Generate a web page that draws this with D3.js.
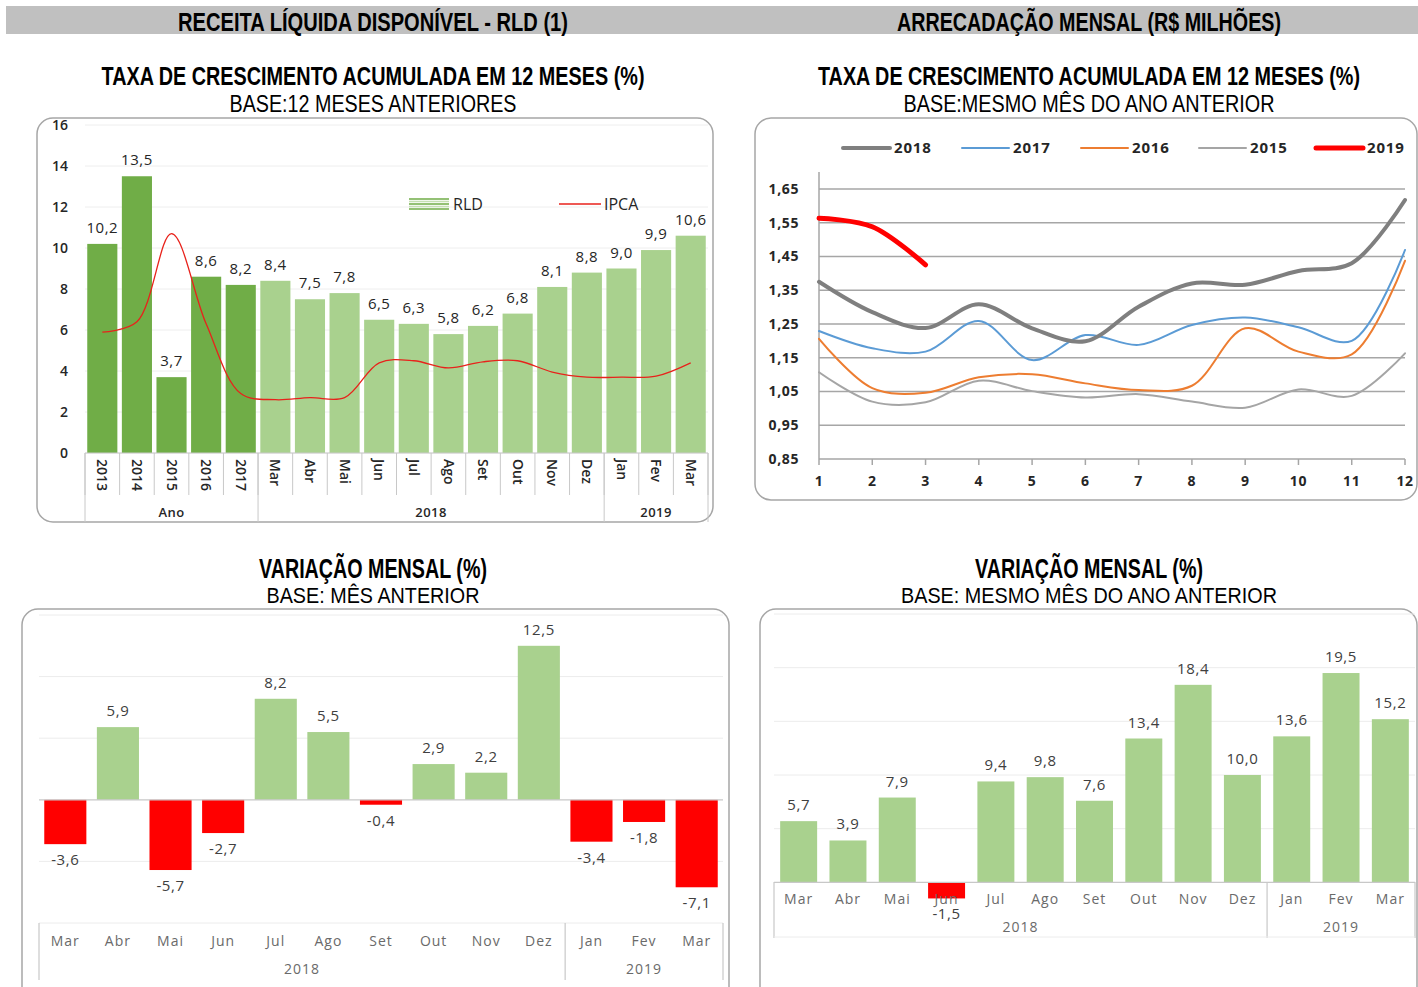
<!DOCTYPE html>
<html>
<head>
<meta charset="utf-8">
<script src="https://cdn.jsdelivr.net/npm/d3@7"></script>
<style>
  body { margin: 0; background: #fff; }
  svg { display: block; }
</style>
</head>
<body>
<div id="chart"></div>
<script>
// ── Data ────────────────────────────────────────────────────────────────────
// RLD: taxa de crescimento acumulada em 12 meses
const rldLabels = ["2013", "2014", "2015", "2016", "2017", "Mar", "Abr", "Mai", "Jun", "Jul", "Ago", "Set", "Out", "Nov", "Dez", "Jan", "Fev", "Mar"];
const rldValues = [10.2, 13.5, 3.7, 8.6, 8.2, 8.4, 7.5, 7.8, 6.5, 6.3, 5.8, 6.2, 6.8, 8.1, 8.8, 9.0, 9.9, 10.6];
const ipcaValues = [5.9, 6.4, 10.7, 6.3, 2.9, 2.6, 2.7, 2.7, 4.4, 4.5, 4.15, 4.45, 4.5, 3.95, 3.7, 3.7, 3.75, 4.4];
const rldGroupNames = ["Ano", "2018", "2019"];
const rldGroupSizes = [5, 10, 3];
const rldTicks = [0, 2, 4, 6, 8, 10, 12, 14, 16];

// Arrecadação mensal (R$ milhões), meses 1..12
const monthNums = [1, 2, 3, 4, 5, 6, 7, 8, 9, 10, 11, 12];
const arr2018 = [1.375, 1.285, 1.238, 1.308, 1.237, 1.199, 1.301, 1.370, 1.366, 1.407, 1.430, 1.617];
const arr2017 = [1.229, 1.178, 1.168, 1.259, 1.143, 1.217, 1.188, 1.247, 1.269, 1.240, 1.200, 1.469];
const arr2016 = [1.206, 1.060, 1.046, 1.092, 1.101, 1.074, 1.054, 1.067, 1.237, 1.168, 1.160, 1.437];
const arr2015 = [1.107, 1.020, 1.018, 1.082, 1.051, 1.032, 1.042, 1.020, 1.002, 1.056, 1.037, 1.163];
const arr2019 = [1.563, 1.538, 1.425];
const arrTicks = [0.85, 0.95, 1.05, 1.15, 1.25, 1.35, 1.45, 1.55, 1.65];

// Variação mensal
const monthLabels = ["Mar", "Abr", "Mai", "Jun", "Jul", "Ago", "Set", "Out", "Nov", "Dez", "Jan", "Fev", "Mar"];
const monthGroupNames = ["2018", "2019"];
const monthGroupSizes = [10, 3];
const varMesAnterior = [-3.6, 5.9, -5.7, -2.7, 8.2, 5.5, -0.4, 2.9, 2.2, 12.5, -3.4, -1.8, -7.1];
const varAnoAnterior = [5.7, 3.9, 7.9, -1.5, 9.4, 9.8, 7.6, 13.4, 18.4, 10.0, 13.6, 19.5, 15.2];
const varMesTicks = [-10, -5, 5, 10, 15];
const varAnoTicks = [5, 10, 15, 20, 25];

// ── Setup ───────────────────────────────────────────────────────────────────
const W = 1418, H = 987;
const NARROW = "'Liberation Sans', Arial, sans-serif";   // squeezed with textLength
const SANS = "'Open Sans', 'DejaVu Sans', sans-serif";
const GREEN_DARK = "#70AD47", GREEN_LIGHT = "#A9D18E", RED = "#FF0000";

const fmt1 = v => v.toFixed(1).replace(".", ",");
const fmt2 = v => v.toFixed(2).replace(".", ",");

const svg = d3.select("#chart").append("svg").attr("width", W).attr("height", H);

function title(text, cx, y, len, size, bold) {
  svg.append("text")
    .attr("x", cx).attr("y", y)
    .attr("text-anchor", "middle")
    .attr("font-family", NARROW)
    .attr("font-size", size)
    .attr("font-weight", bold ? "bold" : "normal")
    .attr("fill", "#000")
    .attr("textLength", len).attr("lengthAdjust", "spacingAndGlyphs")
    .text(text);
}

function panel(x, y, w, h) {
  svg.append("rect")
    .attr("x", x).attr("y", y).attr("width", w).attr("height", h)
    .attr("rx", 16).attr("ry", 16)
    .attr("fill", "#fff").attr("stroke", "#a6a6a6").attr("stroke-width", 1.5);
}

// ── Header band ─────────────────────────────────────────────────────────────
svg.append("rect").attr("x", 6).attr("y", 6).attr("width", W - 6).attr("height", 28).attr("fill", "#c0c0c0");
title("RECEITA LÍQUIDA DISPONÍVEL - RLD  (1)", 373, 31, 390, 26, true);
title("ARRECADAÇÃO MENSAL (R$ MILHÕES)", 1089, 31, 384, 26, true);

title("TAXA DE CRESCIMENTO ACUMULADA EM 12 MESES (%)", 373, 85, 543, 26, true);
title("BASE:12 MESES ANTERIORES", 373, 112, 287, 23, false);
title("TAXA DE CRESCIMENTO ACUMULADA EM 12 MESES (%)", 1089, 85, 542, 26, true);
title("BASE:MESMO MÊS DO ANO ANTERIOR", 1089, 112, 371, 23, false);
title("VARIAÇÃO MENSAL (%)", 373, 578, 228, 27, true);
title("BASE: MÊS ANTERIOR", 373, 603, 213, 22.5, false);
title("VARIAÇÃO MENSAL (%)", 1089, 578, 228, 27, true);
title("BASE: MESMO MÊS DO ANO ANTERIOR", 1089, 603, 376, 22.5, false);

// ── Top-left: RLD bars + IPCA line ─────────────────────────────────────────
(function () {
  panel(37, 118, 676, 404);
  const g = svg.append("g");
  const x = d3.scaleBand().domain(d3.range(rldValues.length)).range([85, 708]).paddingInner(0.13).paddingOuter(0.065);
  const y = d3.scaleLinear().domain([0, 16]).range([453, 125]);
  const bx = i => 85 + i * x.step();

  g.selectAll("line.grid").data(rldTicks).join("line")
    .attr("x1", 85).attr("x2", 708)
    .attr("y1", d => y(d)).attr("y2", d => y(d))
    .attr("stroke", "#eeeeee").attr("stroke-width", 1);

  g.selectAll("text.ytick").data(rldTicks).join("text")
    .attr("x", 68).attr("y", d => y(d)).attr("dy", "0.35em")
    .attr("text-anchor", "end")
    .attr("font-family", SANS).attr("font-size", 14).attr("font-weight", 600)
    .attr("fill", "#262626")
    .text(d => d);

  g.selectAll("rect.bar").data(rldValues).join("rect")
    .attr("x", (d, i) => x(i)).attr("width", x.bandwidth())
    .attr("y", d => y(d)).attr("height", d => y(0) - y(d))
    .attr("fill", (d, i) => i < rldGroupSizes[0] ? GREEN_DARK : GREEN_LIGHT);

  g.selectAll("text.val").data(rldValues).join("text")
    .attr("x", (d, i) => x(i) + x.bandwidth() / 2)
    .attr("y", d => y(d) - 11)
    .attr("text-anchor", "middle")
    .attr("font-family", SANS).attr("font-size", 15).attr("letter-spacing", 0.5)
    .attr("fill", "#262626")
    .text(d => fmt1(d));

  // category axis
  g.selectAll("line.cat").data(d3.range(rldValues.length + 1)).join("line")
    .attr("x1", bx).attr("x2", bx)
    .attr("y1", 453).attr("y2", 495)
    .attr("stroke", "#c8c8c8").attr("stroke-width", 1);

  const bounds = [0];
  rldGroupSizes.forEach(s => bounds.push(bounds[bounds.length - 1] + s));
  g.selectAll("line.grp").data(bounds).join("line")
    .attr("x1", d => bx(d)).attr("x2", d => bx(d))
    .attr("y1", 453).attr("y2", 522)
    .attr("stroke", "#c8c8c8").attr("stroke-width", 1);
  g.append("line").attr("x1", 85).attr("x2", 708).attr("y1", 453).attr("y2", 453)
    .attr("stroke", "#c8c8c8");

  g.selectAll("text.cat").data(rldLabels).join("text")
    .attr("transform", (d, i) => `translate(${x(i) + x.bandwidth() / 2},459) rotate(90)`)
    .attr("text-anchor", "start").attr("dy", "0.35em")
    .attr("font-family", SANS).attr("font-size", 14).attr("font-weight", 600)
    .attr("fill", "#262626")
    .text(d => d);

  g.selectAll("text.grp").data(rldGroupNames).join("text")
    .attr("x", (d, i) => (bx(bounds[i]) + bx(bounds[i + 1])) / 2)
    .attr("y", 517)
    .attr("text-anchor", "middle")
    .attr("font-family", SANS).attr("font-size", 13).attr("font-weight", 600).attr("letter-spacing", 0.5)
    .attr("fill", "#262626")
    .text(d => d);

  const line = d3.line()
    .x((d, i) => x(i) + x.bandwidth() / 2)
    .y(d => y(d))
    .curve(d3.curveCatmullRom.alpha(0.5));
  g.append("path").datum(ipcaValues)
    .attr("d", line).attr("fill", "none")
    .attr("stroke", "#e8221b").attr("stroke-width", 1.3);

  // legend
  const sw = g.append("g");
  [199, 201.5, 204, 206.5, 209].forEach((yy, k) => {
    sw.append("line").attr("x1", 409).attr("x2", 449).attr("y1", yy).attr("y2", yy)
      .attr("stroke", k % 2 ? "#c6e0b4" : GREEN_DARK).attr("stroke-width", 1.5);
  });
  g.append("text").attr("x", 453).attr("y", 204).attr("dy", "0.35em")
    .attr("font-family", SANS).attr("font-size", 16).attr("fill", "#262626").text("RLD");
  g.append("line").attr("x1", 559).attr("x2", 601).attr("y1", 204).attr("y2", 204)
    .attr("stroke", "#e8221b").attr("stroke-width", 1.3);
  g.append("text").attr("x", 604).attr("y", 204).attr("dy", "0.35em")
    .attr("font-family", SANS).attr("font-size", 16).attr("fill", "#262626").text("IPCA");
})();

// ── Top-right: arrecadação lines ────────────────────────────────────────────
(function () {
  panel(755, 118, 662, 382);
  const g = svg.append("g");
  const x = d3.scaleLinear().domain([1, 12]).range([819, 1405]);
  const y = d3.scaleLinear().domain([0.85, 1.70]).range([459, 172]);

  g.selectAll("line.grid").data(arrTicks).join("line")
    .attr("x1", 819).attr("x2", 1405)
    .attr("y1", d => y(d)).attr("y2", d => y(d))
    .attr("stroke", "#a6a6a6").attr("stroke-width", 1.5);
  g.append("line").attr("x1", 819).attr("x2", 819).attr("y1", 172).attr("y2", 459)
    .attr("stroke", "#a6a6a6").attr("stroke-width", 1.5);
  g.selectAll("line.tick").data(monthNums).join("line")
    .attr("x1", d => x(d)).attr("x2", d => x(d)).attr("y1", 459).attr("y2", 465)
    .attr("stroke", "#a6a6a6").attr("stroke-width", 1.5);

  g.selectAll("text.ytick").data(arrTicks).join("text")
    .attr("x", 799).attr("y", d => y(d)).attr("dy", "0.35em")
    .attr("text-anchor", "end")
    .attr("font-family", SANS).attr("font-size", 14).attr("font-weight", "bold").attr("letter-spacing", 0.6)
    .attr("fill", "#262626")
    .text(d => fmt2(d));
  g.selectAll("text.xtick").data(monthNums).join("text")
    .attr("x", d => x(d)).attr("y", 481).attr("dy", "0.35em")
    .attr("text-anchor", "middle")
    .attr("font-family", SANS).attr("font-size", 14).attr("font-weight", "bold").attr("letter-spacing", 0.6)
    .attr("fill", "#262626")
    .text(d => d);

  const series = [
    { name: "2018", values: arr2018, color: "#7f7f7f", width: 4, lx: 843 },
    { name: "2017", values: arr2017, color: "#5b9bd5", width: 2, lx: 962 },
    { name: "2016", values: arr2016, color: "#ed7d31", width: 2, lx: 1081 },
    { name: "2015", values: arr2015, color: "#a5a5a5", width: 2, lx: 1199 },
    { name: "2019", values: arr2019, color: RED, width: 5, lx: 1316 }
  ];
  const line = d3.line()
    .x((d, i) => x(monthNums[i]))
    .y(d => y(d))
    .curve(d3.curveCatmullRom.alpha(0.5));

  // draw order: 2015 under others, 2019 on top
  [3, 2, 1, 0, 4].forEach(k => {
    const s = series[k];
    g.append("path").datum(s.values)
      .attr("d", line).attr("fill", "none")
      .attr("stroke", s.color).attr("stroke-width", s.width)
      .attr("stroke-linecap", "round").attr("stroke-linejoin", "round");
  });

  series.forEach(s => {
    g.append("line").attr("x1", s.lx).attr("x2", s.lx + 47).attr("y1", 148).attr("y2", 148)
      .attr("stroke", s.color).attr("stroke-width", s.width).attr("stroke-linecap", "round");
    g.append("text").attr("x", s.lx + 51).attr("y", 148).attr("dy", "0.35em")
      .attr("font-family", SANS).attr("font-size", 15).attr("font-weight", "bold").attr("letter-spacing", 0.8)
      .attr("fill", "#262626")
      .text(s.name);
  });
})();

// ── Bottom: monthly variation bars ──────────────────────────────────────────
function variationChart(opt) {
  panel(opt.px, 609, opt.pw, 400);
  const g = svg.append("g");
  const n = opt.values.length;
  const x = d3.scaleBand().domain(d3.range(n)).range([opt.x0, opt.x1])
    .paddingInner(opt.pad).paddingOuter(opt.pad / 2);
  const y = d3.scaleLinear().domain(opt.domain).range(opt.range);
  const bx = i => opt.x0 + i * x.step();

  g.selectAll("line.grid").data(opt.ticks).join("line")
    .attr("x1", opt.x0).attr("x2", opt.x1)
    .attr("y1", d => y(d)).attr("y2", d => y(d))
    .attr("stroke", "#ececec").attr("stroke-width", 1);

  g.selectAll("rect.bar").data(opt.values).join("rect")
    .attr("x", (d, i) => x(i)).attr("width", x.bandwidth())
    .attr("y", d => y(Math.max(0, d)))
    .attr("height", d => Math.abs(y(d) - y(0)))
    .attr("fill", d => d < 0 ? RED : GREEN_LIGHT);

  g.append("line").attr("x1", opt.x0).attr("x2", opt.x1)
    .attr("y1", y(0)).attr("y2", y(0))
    .attr("stroke", "#c8c8c8").attr("stroke-width", 1.2);

  g.selectAll("text.val").data(opt.values).join("text")
    .attr("x", (d, i) => x(i) + x.bandwidth() / 2)
    .attr("y", d => d < 0 ? y(d) + 21 : y(d) - 11)
    .attr("text-anchor", "middle")
    .attr("font-family", SANS).attr("font-size", 15).attr("letter-spacing", 0.6)
    .attr("fill", "#404040")
    .text(d => fmt1(d));

  // category axis
  const bounds = [0];
  opt.groupSizes.forEach(s => bounds.push(bounds[bounds.length - 1] + s));
  g.selectAll("line.grp").data(bounds).join("line")
    .attr("x1", d => bx(d)).attr("x2", d => bx(d))
    .attr("y1", opt.axisTop).attr("y2", opt.axisBottom)
    .attr("stroke", "#c8c8c8").attr("stroke-width", 1.2);

  g.selectAll("text.cat").data(monthLabels).join("text")
    .attr("x", (d, i) => x(i) + x.bandwidth() / 2)
    .attr("y", opt.catY).attr("dy", "0.35em")
    .attr("text-anchor", "middle")
    .attr("font-family", SANS).attr("font-size", 14).attr("letter-spacing", 1)
    .attr("fill", "#6a6a6a")
    .text(d => d);

  g.selectAll("text.grp").data(opt.groupNames).join("text")
    .attr("x", (d, i) => (bx(bounds[i]) + bx(bounds[i + 1])) / 2)
    .attr("y", opt.catY + 28).attr("dy", "0.35em")
    .attr("text-anchor", "middle")
    .attr("font-family", SANS).attr("font-size", 14).attr("letter-spacing", 1)
    .attr("fill", "#6a6a6a")
    .text(d => d);
}

variationChart({
  px: 22, pw: 707, x0: 39, x1: 723, pad: 0.2,
  values: varMesAnterior, ticks: varMesTicks,
  domain: [-10, 15], range: [923, 615],
  axisTop: 923, axisBottom: 980, catY: 941,
  groupNames: monthGroupNames, groupSizes: monthGroupSizes
});

variationChart({
  px: 760, pw: 657, x0: 774, x1: 1415, pad: 0.25,
  values: varAnoAnterior, ticks: varAnoTicks,
  domain: [-5, 25], range: [936, 614],
  axisTop: 882, axisBottom: 938, catY: 899,
  groupNames: monthGroupNames, groupSizes: monthGroupSizes
});
// bottom line of the category axis box on the right chart
svg.append("line").attr("x1", 774).attr("x2", 1415).attr("y1", 937).attr("y2", 937)
  .attr("stroke", "#ececec");
</script>
</body>
</html>
